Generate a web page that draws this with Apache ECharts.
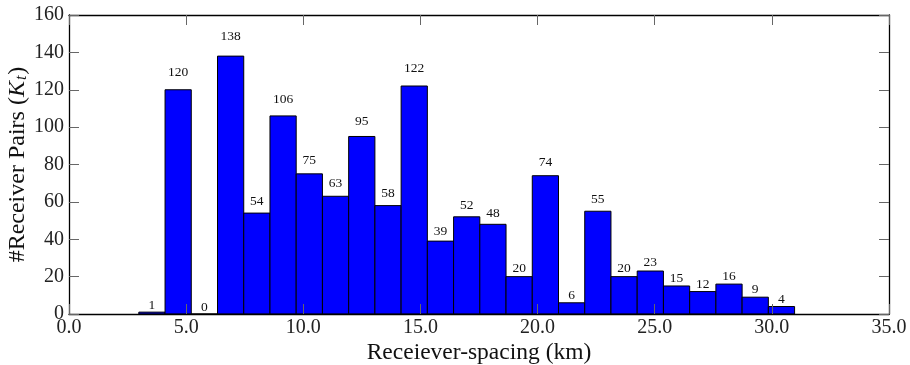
<!DOCTYPE html>
<html>
<head>
<meta charset="utf-8">
<script src="https://cdn.jsdelivr.net/npm/echarts@6/dist/echarts.min.js"></script>
<style>
  html, body { margin: 0; padding: 0; background: #fff; }
  #chart { width: 910px; height: 365px; }
</style>
</head>
<body>
<div id="chart"></div>
<script>
// Histogram of receiver-pair counts per receiver-spacing bin (km)
const binStart = 2.98;     // left edge of the first bin (km)
const binWidth = 1.1196;   // width of every bin (km)
const counts = [1, 120, 0, 138, 54, 106, 75, 63, 95, 58, 122, 39, 52, 48, 20, 74, 6, 55, 20, 23, 15, 12, 16, 9, 4];
const xTicks = [0, 5, 10, 15, 20, 25, 30, 35];
const yTicks = [0, 20, 40, 60, 80, 100, 120, 140, 160];

const serif = '"Liberation Serif", "DejaVu Serif", serif';

const binData = counts.map((c, i) => [binStart + i * binWidth, binStart + (i + 1) * binWidth, c]);

const chart = echarts.init(document.getElementById('chart'), null, { renderer: 'canvas' });

const tickStyle = { show: true, inside: true, length: 10, lineStyle: { color: '#666', width: 1 } };
const lineStyle = { show: true, onZero: false, lineStyle: { color: '#000', width: 1.3 } };

chart.setOption({
  animation: false,
  grid: { left: 69, right: 21, top: 15, bottom: 51, containLabel: false, outerBoundsMode: 'none' },
  xAxis: [
    {
      type: 'value', position: 'bottom', min: xTicks[0], max: xTicks[xTicks.length - 1], interval: 5,
      z: 10,
      axisLine: lineStyle, axisTick: tickStyle, splitLine: { show: false },
      axisLabel: { formatter: v => v.toFixed(1), fontFamily: serif, fontSize: 20, color: '#222', margin: 4 },
      name: 'Receiever-spacing (km)', nameLocation: 'middle', nameGap: 27, nameMoveOverlap: false,
      nameTextStyle: { fontFamily: serif, fontSize: 23.5, color: '#111' }
    },
    {
      type: 'value', position: 'top', min: xTicks[0], max: xTicks[xTicks.length - 1], interval: 5,
      z: 10,
      axisLine: lineStyle, axisTick: tickStyle, splitLine: { show: false }, axisLabel: { show: false }
    }
  ],
  yAxis: [
    {
      type: 'value', position: 'left', min: yTicks[0], max: yTicks[yTicks.length - 1], interval: 20,
      z: 10,
      axisLine: lineStyle, axisTick: tickStyle, splitLine: { show: false },
      axisLabel: { fontFamily: serif, fontSize: 20, color: '#222', margin: 5 },
      name: '{t|#Receiver Pairs (}{k|K}{s|t}{t|)}', nameLocation: 'middle', nameGap: 39, nameRotate: 90,
      nameMoveOverlap: false,
      nameTextStyle: {
        fontFamily: serif, fontSize: 24, color: '#111',
        rich: {
          t: { fontFamily: serif, fontSize: 24, color: '#111' },
          k: { fontFamily: serif, fontSize: 24, fontStyle: 'italic', color: '#111' },
          s: { fontFamily: serif, fontSize: 16, fontStyle: 'italic', color: '#111', verticalAlign: 'bottom', padding: [9, 1, 0, 1] }
        }
      }
    },
    {
      type: 'value', position: 'right', min: yTicks[0], max: yTicks[yTicks.length - 1], interval: 20,
      z: 10,
      axisLine: lineStyle, axisTick: tickStyle, splitLine: { show: false }, axisLabel: { show: false }
    }
  ],
  series: [{
    type: 'custom',
    xAxisIndex: 0, yAxisIndex: 0,
    data: binData,
    z: 2,
    renderItem: (params, api) => {
      const x0 = api.value(0), x1 = api.value(1), h = api.value(2);
      const p0 = api.coord([x0, h]);
      const p1 = api.coord([x1, 0]);
      const labelPos = api.coord([(x0 + x1) / 2, h * 1.05]);
      return {
        type: 'group',
        children: [
          {
            type: 'rect',
            shape: { x: p0[0], y: p0[1], width: p1[0] - p0[0], height: p1[1] - p0[1] },
            style: { fill: '#0000ff', stroke: '#000', lineWidth: 1 }
          },
          {
            type: 'text',
            x: labelPos[0], y: labelPos[1] - 6.5,
            style: {
              text: String(h), fill: '#111', font: '13.5px ' + serif,
              align: 'center', verticalAlign: 'middle'
            }
          }
        ]
      };
    }
  }]
});
</script>
</body>
</html>
